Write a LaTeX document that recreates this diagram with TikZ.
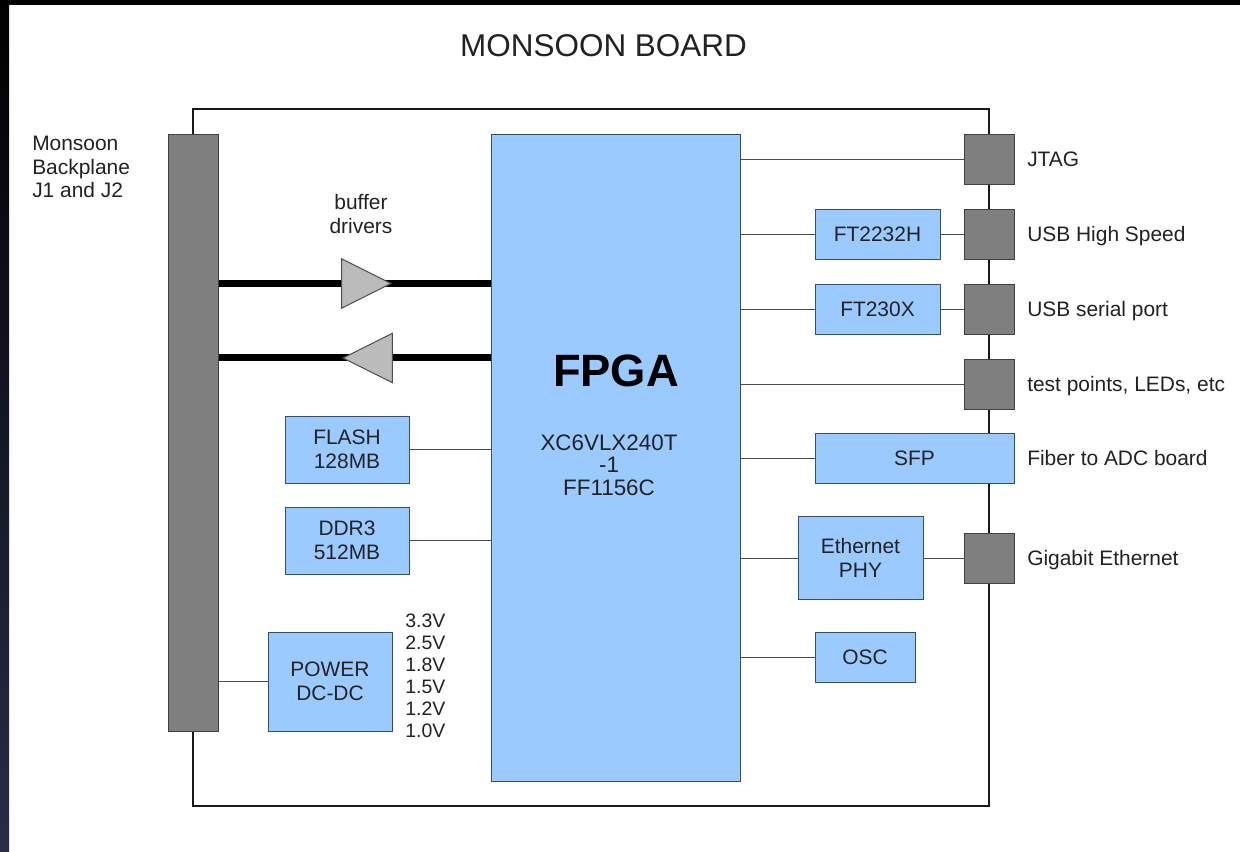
\documentclass[tikz,border=0pt]{standalone}
\usepackage{fontspec}
\setmainfont{Liberation Sans}
\usepackage{xcolor}
\usetikzlibrary{positioning,shapes.geometric,backgrounds}
\definecolor{chipblue}{HTML}{9ACAFF}
\definecolor{chipedge}{HTML}{35506C}
\definecolor{portgray}{HTML}{7F7F7F}
\definecolor{bufgray}{HTML}{BBBBBB}
\definecolor{inkgray}{HTML}{222222}
\definecolor{bandnavy}{HTML}{2A2C48}
\newcommand{\lblfont}{\fontsize{15.7}{17.6}\selectfont}

\begin{document}
\begin{tikzpicture}[
  x=0.75pt, y=-0.75pt,
  font=\lblfont, text=inkgray,
  box/.style={draw=chipedge, line width=0.7pt, fill=chipblue, align=center, inner sep=0pt, outer sep=0pt},
  chip/.style={box, minimum width=93.75pt, minimum height=37.5pt},
  mem/.style={box, minimum width=93pt, minimum height=50.25pt},
  port/.style={draw=black!75, line width=0.7pt, fill=portgray, minimum size=37.5pt, inner sep=0pt, outer sep=0pt},
  bufdrv/.style={draw=black!70, line width=0.7pt, fill=bufgray, isosceles triangle, isosceles triangle stretches, minimum width=37pt, minimum height=37pt, inner sep=0pt, outer sep=0pt},
  lbl/.style={align=left, inner sep=0pt, anchor=west},
  portlbl/.style={lbl, text height=11.2pt, text depth=0pt},
  wire/.style={draw=black!70, line width=0.7pt},
  bus/.style={draw=black, line width=5.25pt},
  frame/.style={draw=black!90, line width=1.7pt, minimum width=597pt, minimum height=522.75pt, inner sep=0pt}]
  \useasboundingbox (0,0) rectangle (1240,852);
  \node[font=\fontsize{23.6}{26}\selectfont] (title) at (603.5,46) {MONSOON BOARD};
  % main parts
  \node[port, minimum width=37.5pt, minimum height=447.75pt, anchor=north west] (backplane) at (168,134) {};
  \node[box, minimum width=186.75pt, minimum height=485.25pt, anchor=north west] (fpga) at (491,134) {};
  \node[font=\fontsize{34}{36}\selectfont\bfseries, text=black] (fpganame) at (616,371) {FPGA};
  \node[align=center, font=\fontsize{16.8}{16.9}\selectfont] (fpgapart) at (609,465) {XC6VLX240T\\-1\\FF1156C};
  % connectors column
  \node[port] (jtag) at (989,159) {};
  \node[port, below=18.75pt of jtag] (usbhs) {};
  \node[port, below=18.75pt of usbhs] (usbser) {};
  \node[port, below=18.75pt of usbser] (testpt) {};
  \node[box, minimum width=149.25pt, minimum height=37.5pt, below=18pt of testpt.south east, anchor=north east] (sfp) {SFP};
  \node[port, below=37.5pt of sfp.south east, anchor=north east] (gige) {};
  % chips
  \node[chip, left=18pt of usbhs] (ft2232) {FT2232H};
  \node[chip, left=18pt of usbser] (ft230) {FT230X};
  \node[box, minimum width=93.75pt, minimum height=62.25pt, left=30.75pt of gige] (phy) {Ethernet\\PHY};
  \node[chip, minimum width=75pt] (osc) at (865,657) {OSC};
  \node[mem] (flash) at (347,449.5) {FLASH\\128MB};
  \node[mem, below=18pt of flash] (ddr) {DDR3\\512MB};
  \node[box, minimum width=93pt, minimum height=74.25pt] (power) at (330,681.5) {POWER\\DC-DC};
  % buffers
  \node[bufdrv, anchor=apex] (buftx) at (391,283.5) {};
  \node[bufdrv, shape border rotate=180, anchor=apex] (bufrx) at (343,358) {};
  % labels
  \node[align=center, inner sep=0pt, font=\fontsize{15.7}{18}\selectfont] (buflbl) at (361,214) {buffer\\drivers};
  \node[lbl] (bplbl) at (32,167) {Monsoon\\Backplane\\J1 and J2};
  \node[lbl, font=\fontsize{14.6}{16.5}\selectfont] (volts) at (405,676) {3.3V\\2.5V\\1.8V\\1.5V\\1.2V\\1.0V};
  \node[portlbl, right=9.75pt of jtag] (jtaglbl) {JTAG};
  \node[portlbl, right=9.75pt of usbhs] (usbhslbl) {USB High Speed};
  \node[portlbl, right=9.75pt of usbser] (usbserlbl) {USB serial port};
  \node[portlbl, right=9.75pt of testpt] (testlbl) {test points, LEDs, etc};
  \node[portlbl, right=9.75pt of sfp] (sfplbl) {Fiber to ADC board};
  \node[portlbl, right=9.75pt of gige] (gigelbl) {Gigabit Ethernet};
  % wires go under the parts
  \begin{scope}[on background layer]
    \fill[white] (0,0) rectangle (1240,852);
    \fill[black] (0,0) rectangle (1240,5.5);
    \shade[top color=black, bottom color=bandnavy] (0,0) rectangle (9,852);
    \node[frame] (board) at (591,457.5) {};
    \draw[bus] (backplane.east |- buftx.apex) -- (fpga.west |- buftx.apex);
    \draw[bus] (backplane.east |- bufrx.apex) -- (fpga.west |- bufrx.apex);
    \draw[wire] (fpga.east |- jtag) -- (jtag.west);
    \draw[wire] (fpga.east |- ft2232) -- (ft2232.west);
    \draw[wire] (ft2232.east) -- (usbhs.west);
    \draw[wire] (fpga.east |- ft230) -- (ft230.west);
    \draw[wire] (ft230.east) -- (usbser.west);
    \draw[wire] (fpga.east |- testpt) -- (testpt.west);
    \draw[wire] (fpga.east |- sfp) -- (sfp.west);
    \draw[wire] (fpga.east |- phy) -- (phy.west);
    \draw[wire] (phy.east) -- (gige.west);
    \draw[wire] (fpga.east |- osc) -- (osc.west);
    \draw[wire] (flash.east) -- (fpga.west |- flash);
    \draw[wire] (ddr.east) -- (fpga.west |- ddr);
    \draw[wire] (backplane.east |- power) -- (power.west);
  \end{scope}
\end{tikzpicture}
\end{document}
